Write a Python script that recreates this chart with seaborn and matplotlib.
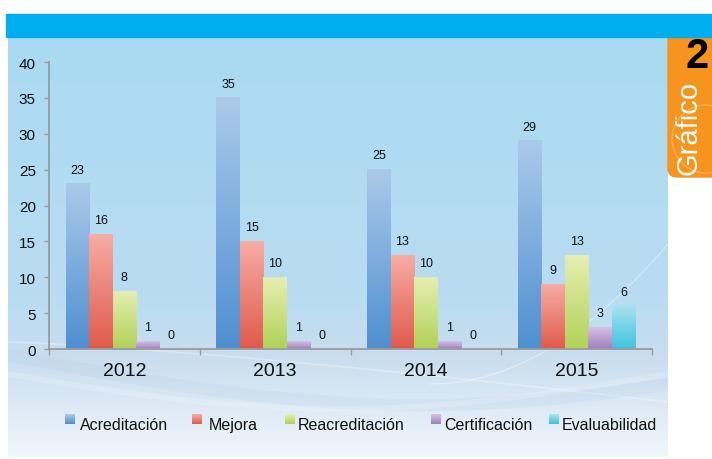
import numpy as np
import pandas as pd
import matplotlib.pyplot as plt
import seaborn as sns
from matplotlib.patches import Rectangle, FancyBboxPatch, Circle
from matplotlib.colors import to_rgb

# datos
anios = ["2012", "2013", "2014", "2015"]
tipos = ["Acreditación", "Mejora", "Reacreditación", "Certificación", "Evaluabilidad"]
acreditacion = [23, 35, 25, 29]
mejora = [16, 15, 13, 9]
reacreditacion = [8, 10, 10, 13]
certificacion = [1, 1, 1, 3]
evaluabilidad = [0, 0, 0, 6]

# colores (base oscura abajo, claro arriba)
col_base = ["#4e8fd0", "#e05a4b", "#b1d158", "#9f7fbe", "#3fc3dd"]
col_top = ["#abc9ea", "#f7aca4", "#e5efb1", "#d7c2e5", "#a9e3f0"]

df = pd.DataFrame({"anio": anios,
                   "Acreditación": acreditacion,
                   "Mejora": mejora,
                   "Reacreditación": reacreditacion,
                   "Certificación": certificacion,
                   "Evaluabilidad": evaluabilidad})
df = df.melt(id_vars="anio", var_name="tipo", value_name="valor")

sns.set_style("white")
plt.rcParams['font.family'] = ['Liberation Sans', 'DejaVu Sans']

W, H = 712, 460
fig = plt.figure(figsize=(W / 100, H / 100), dpi=100)


def vgrad(c_top, c_bot, n=100):
    a = np.array(to_rgb(c_top))
    b = np.array(to_rgb(c_bot))
    t = np.linspace(0, 1, n)[:, None]
    return (a * (1 - t) + b * t)[:, None, :]


# fondo / decoracion en coordenadas de pixel
deco = fig.add_axes([0, 0, 1, 1])
deco.set_xlim(0, W)
deco.set_ylim(H, 0)
deco.set_axis_off()

bg = np.concatenate([vgrad("#a8daf2", "#b9dcf1", 130),
                     vgrad("#b9dcf1", "#c9ddef", 30),
                     vgrad("#c9ddef", "#f1f6fb", 50)])
img = deco.imshow(bg, extent=[8, 668, 458, 38], aspect='auto', origin='upper', zorder=0)
panel = Rectangle((8, 38), 660, 420, transform=deco.transData)
# brillos suaves
xs = np.linspace(8, 668, 300)
u = (xs - 8) / 660
lineas = [
    deco.plot(xs, 343 + 60 * u ** 1.3, color="white", alpha=0.30, lw=1.2)[0],
    deco.plot(xs, 356 + 50 * np.sin(u * np.pi * 0.8), color="#a7c3e2", alpha=0.15, lw=9)[0],
    deco.plot(xs, 375 + 35 * np.sin(u * np.pi), color="white", alpha=0.18, lw=4)[0],
]
xs2 = np.linspace(430, 668, 200)
lineas.append(deco.plot(xs2, 385 - 140 * ((xs2 - 430) / 238) ** 2,
                        color="white", alpha=0.35, lw=1.0)[0])
for ln in lineas:
    ln.set_clip_path(panel)
    ln.set_solid_capstyle("butt")
    ln.set_zorder(1)

# banda azul
deco.add_patch(Rectangle((6, 15), W - 6, 23, color="#00adef", zorder=5))
# pestaña naranja
deco.add_patch(FancyBboxPatch((668, 20), 70, 158, boxstyle="round,pad=0,rounding_size=9",
                              color="#f7941d", zorder=4, clip_on=False))
deco.add_patch(Circle((706, 140), 34, fill=False, ec="white", alpha=0.3, lw=0.8, zorder=4))
deco.text(697, 57, "2", fontsize=30, fontweight="bold", color="black",
          ha="center", va="center", zorder=6)
deco.text(689, 128, "Gráfico", fontsize=21, color="white", rotation=90,
          ha="center", va="center", zorder=6)

# grafico de barras
ax = fig.add_axes([49 / W, 1 - 350 / H, (652 - 49) / W, (350 - 63) / H])
ax.patch.set_alpha(0)
sns.barplot(data=df, x="anio", y="valor", hue="tipo", hue_order=tipos, order=anios,
            palette=col_base, saturation=1, width=0.78, legend=False, ax=ax)

for i, cont in enumerate(ax.containers):
    for p in cont:
        h = p.get_height()
        if h > 0:
            x0 = p.get_x()
            ax.imshow(vgrad(col_top[i], col_base[i]), extent=[x0, x0 + p.get_width(), 0, h],
                      aspect='auto', origin='upper', zorder=2)
        p.set_facecolor("none")
        p.set_edgecolor("none")
    ax.bar_label(cont, fmt="%d", padding=6, fontsize=9, color="#111111")

ax.set_xlim(-0.5, 3.5)
ax.set_ylim(0, 40)
ax.set_yticks(range(0, 41, 5))
ax.set_xlabel("")
ax.set_ylabel("")
for s in ["top", "right"]:
    ax.spines[s].set_visible(False)
for s in ["left", "bottom"]:
    ax.spines[s].set_color("#9a9a9a")
    ax.spines[s].set_linewidth(1.3)
ax.tick_params(axis="y", length=3.5, width=1, color="#9a9a9a", pad=6, labelsize=11,
               labelcolor="#111111", left=True)
ax.tick_params(axis="x", length=0, pad=9, labelsize=14, labelcolor="#111111")
ax.set_xticks([-0.5, 0.5, 1.5, 2.5, 3.5], minor=True)
ax.tick_params(axis="x", which="minor", length=4, width=1, color="#9a9a9a", bottom=True)

# leyenda manual
sq_x = [65, 192, 285, 431, 549]
tx_x = [80, 209, 298, 444, 562]
for i, t in enumerate(tipos):
    deco.imshow(vgrad(col_top[i], col_base[i], 20), extent=[sq_x[i], sq_x[i] + 10, 425, 415],
                aspect='auto', origin='upper', zorder=3)
    deco.text(tx_x[i], 430, t, fontsize=11.5, color="#111111", ha="left", va="baseline", zorder=3)
deco.set_xlim(0, W)
deco.set_ylim(H, 0)

fig.savefig("out.png", dpi=100)
